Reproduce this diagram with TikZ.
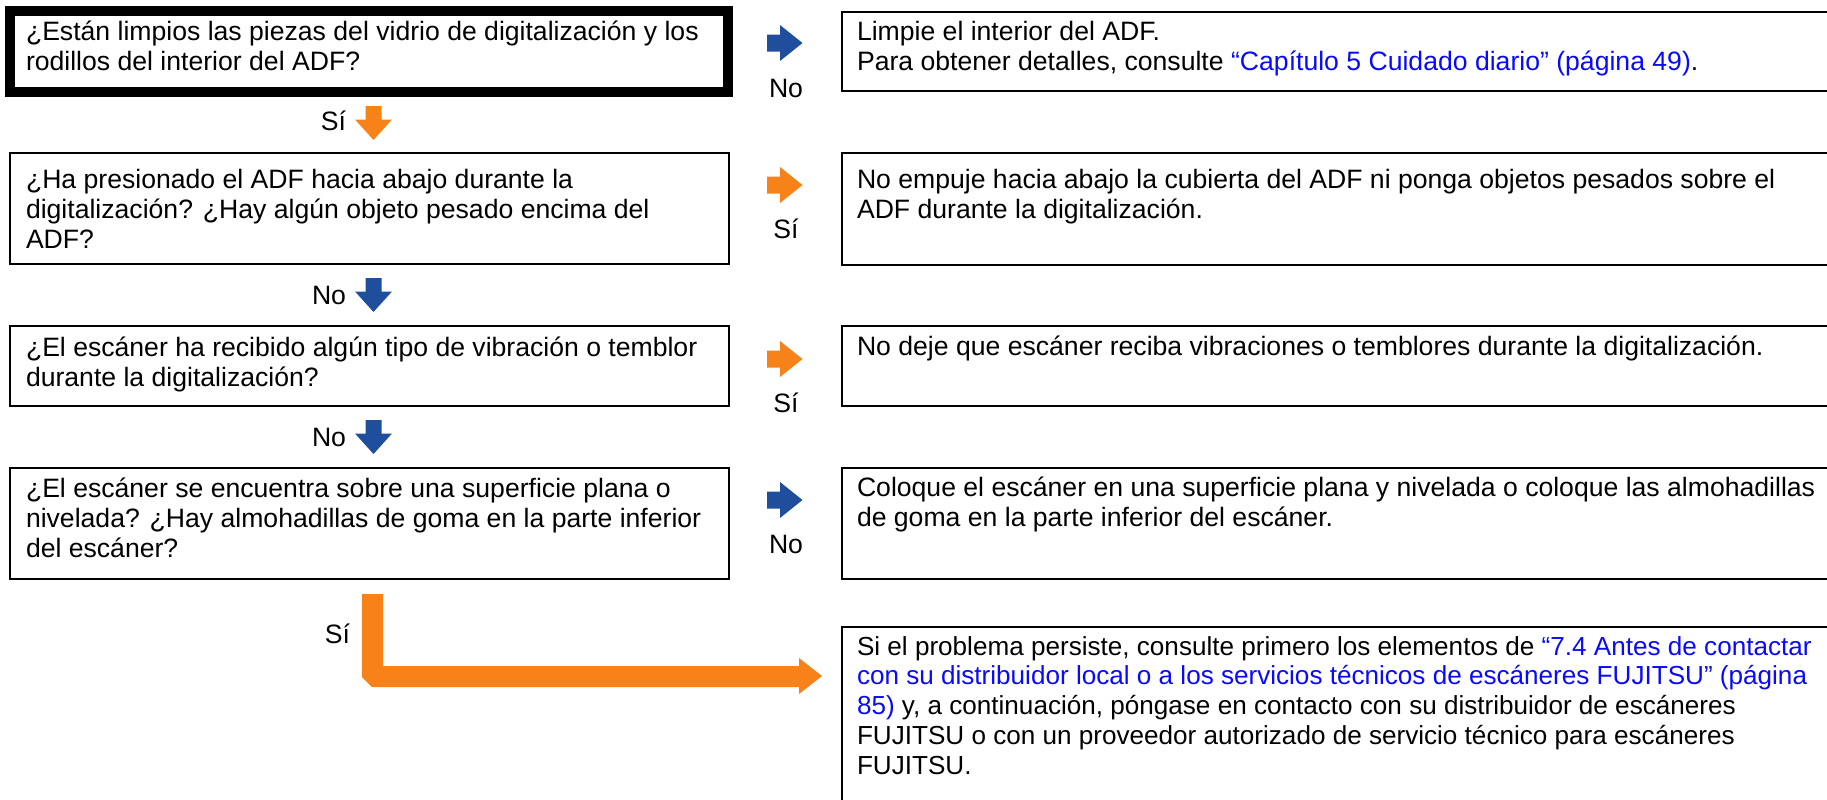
\documentclass[tikz,border=0pt]{standalone}
\usepackage{fontspec}
\setmainfont{Liberation Sans}
\usetikzlibrary{calc}
\definecolor{arrblue}{RGB}{31,79,156}
\definecolor{arrorange}{RGB}{247,130,26}
\definecolor{linkblue}{RGB}{10,10,250}
\newcommand\fsz{\fontsize{13.3pt}{15pt}\selectfont}
\newcommand\fszb{\fontsize{13.05pt}{14.9pt}\selectfont}
\newcommand\lk[1]{\textcolor{linkblue}{#1}}
\begin{document}
\begin{tikzpicture}[x=0.5pt,y=-0.5pt,
  qbox/.style={draw=black, line width=1.2pt, rectangle, inner sep=0pt, outer sep=0pt, anchor=north west},
  txt/.style={font=\fsz, align=left, inner sep=0pt, outer sep=0pt, anchor=north west},
  lbl/.style={font=\fsz, inner sep=0pt, outer sep=0pt},
  pics/rarr/.style={code={\fill (0,-8.5) -- (13,-8.5) -- (13,-18) -- (35.5,0) -- (13,18) -- (13,8.5) -- (0,8.5) -- cycle;}},
  pics/darr/.style={code={\fill (-8,0) -- (8,0) -- (8,13.5) -- (18.5,13.5) -- (0,34) -- (-18.5,13.5) -- (-8,13.5) -- cycle;}}
]
\useasboundingbox (0,0) rectangle (1827,799);
\clip (0,0) rectangle (1827,799);

% left question boxes
\node[qbox, line width=5pt, minimum width=359pt, minimum height=40.5pt] (q1) at (10,11) {};
\node[qbox, minimum width=359.5pt, minimum height=55.5pt] (q2) at (10,153) {};
\node[qbox, minimum width=359.5pt, minimum height=40pt] (q3) at (10,326) {};
\node[qbox, minimum width=359.5pt, minimum height=55.5pt] (q4) at (10,468) {};

% right answer boxes
\node[qbox, minimum width=509pt, minimum height=39.5pt] (a1) at (842,12) {};
\node[qbox, minimum width=509pt, minimum height=56pt] (a2) at (842,153) {};
\node[qbox, minimum width=509pt, minimum height=40pt] (a3) at (842,326) {};
\node[qbox, minimum width=509pt, minimum height=55.5pt] (a4) at (842,468) {};
\node[qbox, minimum width=509pt, minimum height=100pt] (a5) at (842,627) {};

% texts
\node[txt] (tq1) at ($(q1.north west)+(16,0)$) {\rule{0pt}{14.9pt}¿Están limpios las piezas del vidrio de digitalización y los\\rodillos del interior del ADF?};
\node[txt] (tq2) at ($(q2.north west)+(16,0)$) {\rule{0pt}{17.5pt}¿Ha presionado el ADF hacia abajo durante la\\digitalización? ¿Hay algún objeto pesado encima del\\ADF?};
\node[txt] (tq3) at ($(q3.north west)+(16,0)$) {\rule{0pt}{15pt}¿El escáner ha recibido algún tipo de vibración o temblor\\durante la digitalización?};
\node[txt] (tq4) at ($(q4.north west)+(16,0)$) {\rule{0pt}{14.6pt}¿El escáner se encuentra sobre una superficie plana o\\nivelada? ¿Hay almohadillas de goma en la parte inferior\\del escáner?};

\node[txt] (ta1) at ($(a1.north west)+(15,0)$) {\rule{0pt}{14pt}Limpie el interior del ADF.\\Para obtener detalles, consulte \lk{“Capítulo 5 Cuidado diario” (página 49)}.};
\node[txt] (ta2) at ($(a2.north west)+(15,0)$) {\rule{0pt}{17.5pt}No empuje hacia abajo la cubierta del ADF ni ponga objetos pesados sobre el\\ADF durante la digitalización.};
\node[txt] (ta3) at ($(a3.north west)+(15,0)$) {\rule{0pt}{14.5pt}No deje que escáner reciba vibraciones o temblores durante la digitalización.};
\node[txt] (ta4) at ($(a4.north west)+(15,0)$) {\rule{0pt}{14pt}Coloque el escáner en una superficie plana y nivelada o coloque las almohadillas\\de goma en la parte inferior del escáner.};
\node[txt, font=\fszb] (ta5) at ($(a5.north west)+(15,0)$) {\rule{0pt}{14pt}Si el problema persiste, consulte primero los elementos de \lk{“7.4 Antes de contactar}\\\lk{con su distribuidor local o a los servicios técnicos de escáneres FUJITSU” (página}\\\lk{85)} y, a continuación, póngase en contacto con su distribuidor de escáneres\\FUJITSU o con un proveedor autorizado de servicio técnico para escáneres\\FUJITSU.};

% right-pointing arrows
\pic[color=arrblue] at (767,43) {rarr};
\node[lbl, anchor=base] (l1) at (786,97) {No};
\pic[color=arrorange] at (767,185) {rarr};
\node[lbl, anchor=base] (l2) at (786,238) {Sí};
\pic[color=arrorange] at (767,359) {rarr};
\node[lbl, anchor=base] (l3) at (786,412) {Sí};
\pic[color=arrblue] at (767,500) {rarr};
\node[lbl, anchor=base] (l4) at (786,553) {No};

% down arrows
\pic[color=arrorange] at (373.5,106) {darr};
\node[lbl, anchor=base east] (d1) at (346,130) {Sí};
\pic[color=arrblue] at (373.5,278) {darr};
\node[lbl, anchor=base east] (d2) at (346,304) {No};
\pic[color=arrblue] at (373.5,420) {darr};
\node[lbl, anchor=base east] (d3) at (346,446) {No};

% L-shaped arrow to last box
\fill[arrorange] (362,594) -- (383,594) -- (383,666) -- (799,666) -- (799,658) -- (822,676) -- (799,694) -- (799,687) -- (372,687) -- (362,677) -- cycle;
\node[lbl, anchor=base east] (d4) at (350,643) {Sí};
\end{tikzpicture}
\end{document}
